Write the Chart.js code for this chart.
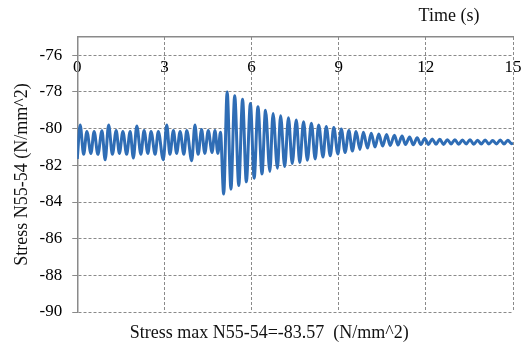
<!DOCTYPE html>
<html>
<head>
<meta charset="utf-8">
<script src="https://cdn.jsdelivr.net/npm/chart.js@4/dist/chart.umd.min.js"></script>
<style>
  body { margin: 0; background: #fff; }
</style>
</head>
<body>
<canvas id="stressChart" width="521" height="347"></canvas>
<script>
// time (s) and stress (N/mm^2) at the peaks and troughs
var times = [
  0.00, 0.10, 0.22, 0.33, 0.47, 0.58, 0.71, 0.85, 0.96, 1.08,
  1.21, 1.34, 1.45, 1.57, 1.70, 1.82, 1.93, 2.05, 2.19, 2.30,
  2.43, 2.54, 2.68, 2.79, 2.96, 3.08, 3.19, 3.31, 3.42, 3.54,
  3.67, 3.77, 3.94, 4.05, 4.16, 4.28, 4.39, 4.51, 4.64, 4.74,
  4.84, 4.93, 5.04, 5.16, 5.29, 5.42, 5.56, 5.69, 5.82, 5.96,
  6.09, 6.22, 6.36, 6.48, 6.63, 6.74, 6.89, 7.00, 7.14, 7.27,
  7.40, 7.54, 7.66, 7.79, 7.92, 8.06, 8.19, 8.31, 8.46, 8.57,
  8.71, 8.83, 8.97, 9.09, 9.22, 9.35, 9.47, 9.60, 9.73, 9.85,
  9.99, 10.12, 10.25, 10.38, 10.51, 10.65, 10.77, 10.92, 11.04, 11.18,
  11.30, 11.44, 11.57, 11.70, 11.83, 11.96, 12.09, 12.22, 12.35, 12.48,
  12.61, 12.74, 12.87, 13.00, 13.13, 13.26, 13.39, 13.52, 13.65, 13.78,
  13.91, 14.04, 14.17, 14.30, 14.43, 14.56, 14.69, 14.82, 14.95, 15.00
];
var stress = [
  -81.65, -79.80, -81.40, -80.15, -81.35, -80.15, -81.40, -80.12, -81.70, -79.80,
  -81.40, -80.10, -81.35, -80.15, -81.40, -80.15, -81.60, -79.85, -81.40, -80.10,
  -81.35, -80.15, -81.40, -80.15, -81.70, -79.80, -81.40, -80.10, -81.35, -80.15,
  -81.40, -80.10, -81.75, -79.80, -81.40, -80.05, -81.35, -80.10, -81.30, -80.10,
  -81.35, -80.20, -83.57, -78.00, -83.30, -78.20, -83.10, -78.40, -82.90, -78.63,
  -82.70, -78.80, -82.47, -79.00, -82.34, -79.17, -82.16, -79.30, -82.07, -79.40,
  -81.90, -79.53, -81.85, -79.62, -81.72, -79.70, -81.65, -79.80, -81.55, -79.88,
  -81.48, -79.93, -81.38, -80.02, -81.30, -80.10, -81.22, -80.16, -81.13, -80.20,
  -81.06, -80.25, -81.00, -80.29, -80.95, -80.32, -80.92, -80.36, -80.89, -80.40,
  -80.87, -80.46, -80.88, -80.50, -80.87, -80.53, -80.86, -80.56, -80.85, -80.58,
  -80.86, -80.60, -80.84, -80.60, -80.85, -80.62, -80.83, -80.60, -80.85, -80.63,
  -80.84, -80.62, -80.84, -80.64, -80.83, -80.62, -80.84, -80.63, -80.82, -80.78
];
var xTicks = [0, 3, 6, 9, 12, 15];
var yTicks = [-90, -88, -86, -84, -82, -80, -78, -76];

var points = times.map(function (t, i) { return { x: t, y: stress[i] }; });

var serif = '"Liberation Serif", "DejaVu Serif", serif';
var gridGrey = '#8a8a8a';

// let the "15" label run off the edge like in the original
function noSidePadding(scale) {
  scale.paddingLeft = 0;
  scale.paddingRight = 0;
}

// axis captions placed like in the original figure
var captions = {
  id: 'captions',
  afterDraw: function (chart) {
    var ctx = chart.ctx, a = chart.chartArea;
    ctx.save();
    ctx.fillStyle = '#111';
    ctx.font = '18px ' + serif;
    ctx.textAlign = 'center';
    ctx.textBaseline = 'middle';
    ctx.fillText('Time (s)', a.right - 64, 16);
    ctx.fillText('Stress max N55-54=-83.57  (N/mm^2)', a.left + 192, a.bottom + 21);
    ctx.restore();
  }
};

var ctx = document.getElementById('stressChart').getContext('2d');
var stressChart = new Chart(ctx, {
  type: 'line',
  data: {
    datasets: [{
      label: 'Stress N55-54',
      data: points,
      borderColor: '#2f6db5',
      borderWidth: 3,
      pointRadius: 0,
      fill: false,
      cubicInterpolationMode: 'monotone'
    }]
  },
  options: {
    responsive: false,
    animation: false,
    devicePixelRatio: 1,
    layout: { padding: { left: 0, right: 8, top: 37, bottom: 35 } },
    plugins: {
      legend: { display: false },
      tooltip: { enabled: false }
    },
    scales: {
      x: {
        type: 'linear',
        position: { y: -76 },
        min: 0,
        max: 15,
        afterBuildTicks: function (scale) {
          scale.ticks = xTicks.map(function (v) { return { value: v }; });
        },
        afterFit: noSidePadding,
        grid: { color: gridGrey, lineWidth: 1, drawTicks: false },
        border: { display: false, dash: [3, 2] },
        ticks: {
          padding: 2,
          color: '#000',
          font: { family: serif, size: 17 },
          maxRotation: 0
        }
      },
      xTop: {
        type: 'linear',
        position: 'top',
        min: 0,
        max: 15,
        afterFit: noSidePadding,
        grid: { display: false, drawTicks: false },
        ticks: { display: false },
        border: { display: true, color: gridGrey, width: 1.5 }
      },
      y: {
        min: -90,
        max: -75,
        afterBuildTicks: function (scale) {
          scale.ticks = yTicks.map(function (v) { return { value: v }; });
        },
        grid: { color: gridGrey, lineWidth: 1, tickLength: 5, tickColor: gridGrey },
        border: { display: true, color: gridGrey, width: 1.5, dash: [3, 2] },
        ticks: {
          padding: 10,
          color: '#000',
          font: { family: serif, size: 17 }
        },
        title: {
          display: true,
          text: 'Stress N55-54 (N/mm^2)',
          color: '#111',
          font: { family: serif, size: 18 },
          padding: { top: 11, bottom: -3 }
        }
      }
    }
  },
  plugins: [captions]
});
</script>
</body>
</html>
